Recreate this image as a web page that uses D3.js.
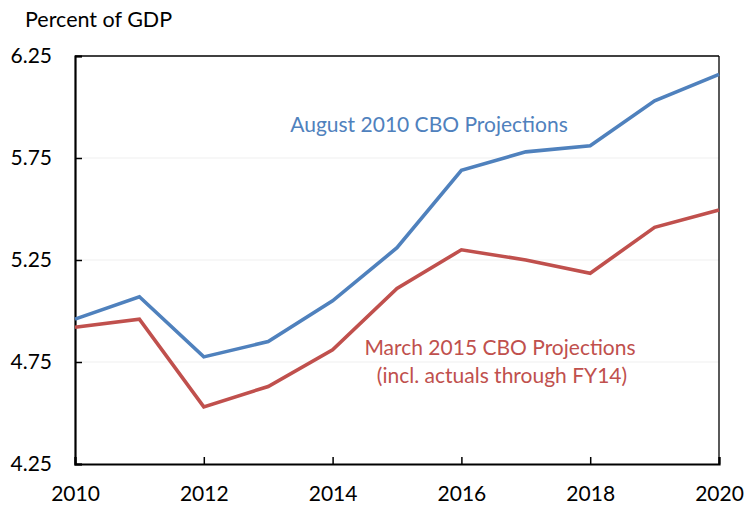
<!DOCTYPE html>
<html>
<head>
<meta charset="utf-8">
<script src="https://cdn.jsdelivr.net/npm/d3@7"></script>
<style>
  body { margin: 0; background: #fff; }
  text { font-family: Lato, "Open Sans", sans-serif; }
</style>
</head>
<body>
<script>
var years = [2010, 2011, 2012, 2013, 2014, 2015, 2016, 2017, 2018, 2019, 2020];
var august2010 = [4.96, 5.07, 4.775, 4.85, 5.05, 5.31, 5.69, 5.78, 5.81, 6.03, 6.16];
var march2015 = [4.92, 4.96, 4.53, 4.63, 4.81, 5.11, 5.30, 5.25, 5.185, 5.41, 5.495];
var yTicks = [4.25, 4.75, 5.25, 5.75, 6.25];
var xTicks = [2010, 2012, 2014, 2016, 2018, 2020];

var width = 745, height = 506;
var plotLeft = 75, plotRight = 719, plotTop = 56, plotBottom = 464;

var svg = d3.select("body").append("svg")
            .attr("width", width)
            .attr("height", height);

var x = d3.scaleLinear().domain([2010, 2020]).range([plotLeft, plotRight]);
var y = d3.scaleLinear().domain([4.25, 6.25]).range([plotBottom, plotTop]);

// faint gridlines
svg.selectAll("line.grid")
   .data(yTicks.slice(1, -1))
   .enter()
   .append("line")
   .attr("class", "grid")
   .attr("x1", plotLeft).attr("x2", plotRight)
   .attr("y1", function(d) { return y(d); })
   .attr("y2", function(d) { return y(d); })
   .attr("stroke", "#efefef")
   .attr("stroke-width", 1.2);

// top and right border
svg.append("line").attr("x1", plotLeft).attr("x2", plotRight).attr("y1", plotTop).attr("y2", plotTop)
   .attr("stroke", "#000").attr("stroke-width", 1.3);
svg.append("line").attr("x1", plotRight).attr("x2", plotRight).attr("y1", plotTop).attr("y2", plotBottom)
   .attr("stroke", "#000").attr("stroke-width", 1.3);

// y axis, ticks pointing in
var yAxis = svg.append("g")
   .attr("transform", "translate(" + plotLeft + ",0)")
   .call(d3.axisLeft(y).tickValues(yTicks).tickSize(-7).tickPadding(23)
           .tickFormat(d3.format(".2f")));
yAxis.select(".domain").attr("stroke-width", 2.2);
yAxis.selectAll(".tick line").attr("stroke-width", 1.5);
yAxis.selectAll("text").attr("font-size", "21px").attr("fill", "#000")
     .attr("font-family", "Lato, sans-serif");

// x axis, ticks pointing in
var xAxis = svg.append("g")
   .attr("transform", "translate(0," + plotBottom + ")")
   .call(d3.axisBottom(x).tickValues(xTicks).tickSize(-7).tickPadding(22)
           .tickFormat(d3.format("d")));
xAxis.select(".domain").attr("stroke-width", 2.2);
xAxis.selectAll(".tick line").attr("stroke-width", 1.5);
xAxis.selectAll("text").attr("font-size", "21px").attr("fill", "#000")
     .attr("font-family", "Lato, sans-serif");

var line = d3.line()
   .x(function(d, i) { return x(years[i]); })
   .y(function(d) { return y(d); });

svg.append("path").datum(march2015)
   .attr("d", line)
   .attr("fill", "none")
   .attr("stroke", "#C0504D")
   .attr("stroke-width", 3.6)
   .attr("stroke-linejoin", "miter");

svg.append("path").datum(august2010)
   .attr("d", line)
   .attr("fill", "none")
   .attr("stroke", "#4F81BD")
   .attr("stroke-width", 3.6)
   .attr("stroke-linejoin", "miter");

// labels
svg.append("text").attr("x", 25).attr("y", 27)
   .attr("font-size", "21.5px").attr("fill", "#000")
   .text("Percent of GDP");

svg.append("text").attr("x", 429).attr("y", 132)
   .attr("text-anchor", "middle")
   .attr("font-size", "21px").attr("fill", "#4F81BD")
   .text("August 2010 CBO Projections");

svg.append("text").attr("x", 500).attr("y", 355)
   .attr("text-anchor", "middle")
   .attr("font-size", "21px").attr("fill", "#C0504D")
   .text("March 2015 CBO Projections");

svg.append("text").attr("x", 502).attr("y", 383)
   .attr("text-anchor", "middle")
   .attr("font-size", "21px").attr("fill", "#C0504D")
   .text("(incl. actuals through FY14)");
</script>
</body>
</html>
